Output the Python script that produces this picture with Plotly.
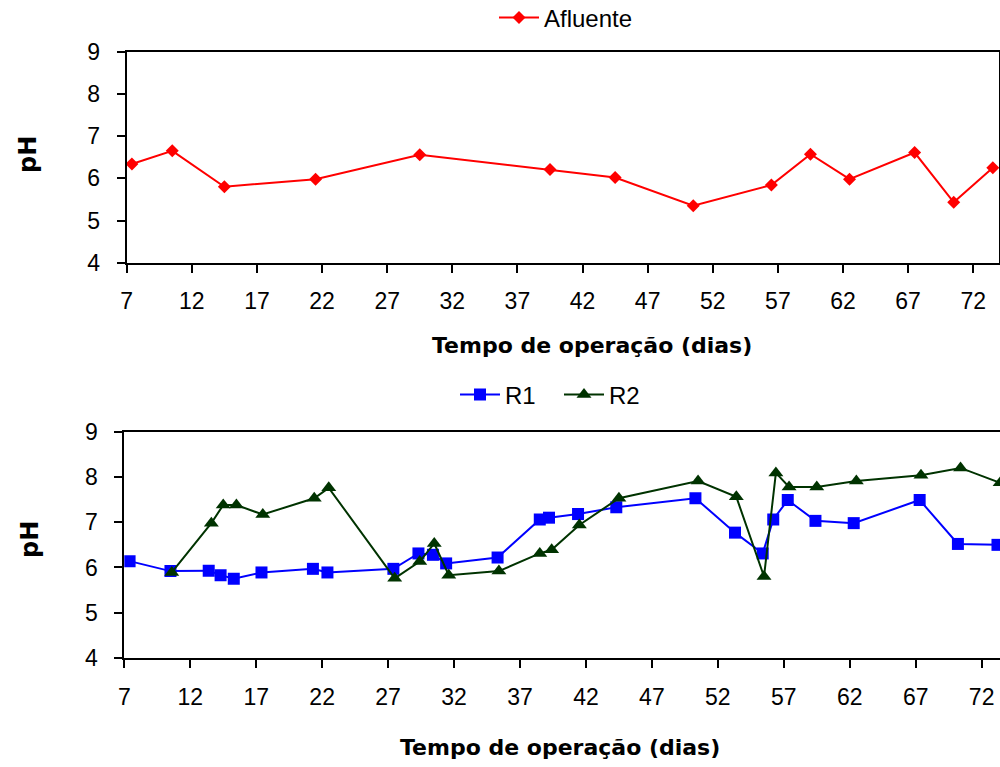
import plotly.graph_objects as go

# ---- data ----
afl_dias = [7.4, 10.5, 14.5, 21.5, 29.5, 39.5, 44.5, 50.5, 56.5, 59.5, 62.5, 67.5, 70.5, 73.5]
afl_ph = [6.34, 6.65, 5.80, 5.98, 6.56, 6.21, 6.02, 5.35, 5.84, 6.57, 5.98, 6.61, 5.43, 6.25]

r1_dias = [7.4, 10.5, 13.4, 14.3, 15.3, 17.4, 21.3, 22.4, 27.4, 29.3, 30.4, 31.4, 35.3,
           38.5, 39.2, 41.4, 44.3, 50.3, 53.3, 55.4, 56.2, 57.3, 59.4, 62.3, 67.3, 70.2, 73.2]
r1_ph = [6.14, 5.92, 5.93, 5.83, 5.75, 5.89, 5.97, 5.89, 5.97, 6.31, 6.28, 6.09, 6.22,
         7.06, 7.10, 7.18, 7.33, 7.53, 6.77, 6.31, 7.06, 7.49, 7.03, 6.98, 7.49, 6.52, 6.50]

r2_dias = [10.6, 13.6, 14.5, 15.5, 17.5, 21.4, 22.5, 27.5, 29.4, 30.5, 31.6, 35.4,
           38.5, 39.4, 41.5, 44.5, 50.5, 53.4, 55.5, 56.4, 57.4, 59.5, 62.5, 67.4, 70.4, 73.4]
r2_ph = [5.89, 6.98, 7.38, 7.38, 7.17, 7.53, 7.76, 5.76, 6.13, 6.53, 5.83, 5.92,
         6.31, 6.39, 6.94, 7.53, 7.91, 7.56, 5.80, 8.09, 7.78, 7.78, 7.91, 8.04, 8.20, 7.87]

x_ticks = [7, 12, 17, 22, 27, 32, 37, 42, 47, 52, 57, 62, 67, 72]
y_ticks = [4, 5, 6, 7, 8, 9]

W, H = 1000, 767
FONT = "Liberation Sans, Arial, sans-serif"
BOLD_FONT = "DejaVu Sans, Verdana, sans-serif"

fig = go.Figure()

fig.add_trace(go.Scatter(
    x=afl_dias, y=afl_ph, name="Afluente", mode="lines+markers",
    line=dict(color="#FF0000", width=2),
    marker=dict(symbol="diamond", size=10, color="#FF0000"),
    xaxis="x", yaxis="y", legend="legend"))

fig.add_trace(go.Scatter(
    x=r1_dias, y=r1_ph, name="R1", mode="lines+markers",
    line=dict(color="#0000FF", width=2),
    marker=dict(symbol="square", size=12, color="#0000FF"),
    xaxis="x2", yaxis="y2", legend="legend2"))

fig.add_trace(go.Scatter(
    x=r2_dias, y=r2_ph, name="R2", mode="lines+markers",
    line=dict(color="#003300", width=2),
    marker=dict(symbol="triangle-up", size=13, color="#003300"),
    xaxis="x2", yaxis="y2", legend="legend2"))

def px_x(p):
    return p / W

def px_y(p):
    return 1 - p / H

axis_common = dict(
    showline=True, linecolor="black", linewidth=2,
    ticks="outside", ticklen=8, tickwidth=1.5, tickcolor="black",
    showgrid=False, zeroline=False, automargin=False,
    tickfont=dict(family=FONT, size=23, color="black"),
)

fig.update_layout(
    width=W, height=H,
    margin=dict(l=0, r=0, t=0, b=0, autoexpand=False),
    paper_bgcolor="white", plot_bgcolor="white",
    font=dict(family=FONT, color="black"),
    xaxis=dict(domain=[px_x(126.7), px_x(999.3)], range=[7, 74],
               tickvals=x_ticks, anchor="y", mirror=True,
               ticklabelstandoff=9, **axis_common),
    yaxis=dict(domain=[px_y(262.7), px_y(51.7)], range=[4, 9],
               tickvals=y_ticks, anchor="x", mirror=True,
               ticklabelstandoff=12, **axis_common),
    xaxis2=dict(domain=[px_x(124.3), 1.0], range=[7, 7 + (1000 - 124.3) / 13.19],
                tickvals=x_ticks, anchor="y2", mirror=True,
                ticklabelstandoff=9, **axis_common),
    yaxis2=dict(domain=[px_y(658), px_y(431.7)], range=[4, 9],
                tickvals=y_ticks, anchor="x2", mirror=False,
                ticklabelstandoff=12, **axis_common),
    legend=dict(orientation="h", xref="container", yref="container",
                x=px_x(566), xanchor="center",
                y=px_y(18), yanchor="middle",
                font=dict(family=FONT, size=24, color="black"),
                bgcolor="rgba(0,0,0,0)", itemwidth=40, tracegroupgap=0),
    legend2=dict(orientation="h", xref="container", yref="container",
                 x=px_x(559), xanchor="center",
                 y=px_y(395), yanchor="middle",
                 font=dict(family=FONT, size=24, color="black"),
                 bgcolor="rgba(0,0,0,0)", itemwidth=40, tracegroupgap=0,
                 entrywidth=49, entrywidthmode="pixels"),
    showlegend=True,
)

annots = [
    dict(text="<b>Tempo de operação (dias)</b>", x=px_x(592), y=px_y(345)),
    dict(text="<b>Tempo de operação (dias)</b>", x=px_x(560), y=px_y(747)),
    dict(text="<b>pH</b>", x=px_x(28), y=px_y(155), textangle=-90),
    dict(text="<b>pH</b>", x=px_x(30), y=px_y(540), textangle=-90),
]
for a in annots:
    fig.add_annotation(xref="paper", yref="paper", showarrow=False,
                       xanchor="center", yanchor="middle",
                       font=dict(family=BOLD_FONT, size=24 if "pH" in a["text"] else 22, color="black"),
                       **a)

fig.write_html("out.html", config={"displayModeBar": False},
               post_script="document.body.style.margin='0';document.body.style.overflow='hidden';")
